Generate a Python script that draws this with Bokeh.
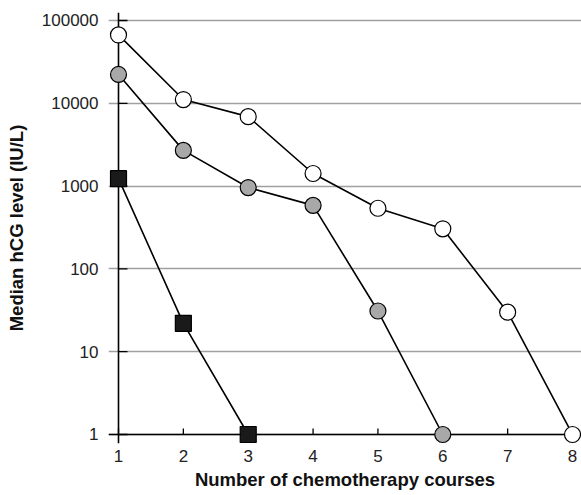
import math
from bokeh.plotting import figure
from bokeh.embed import file_html
from bokeh.resources import INLINE
from bokeh.models import FixedTicker, CustomJSTickFormatter, Range1d, Grid

courses = [1, 2, 3, 4, 5, 6, 7, 8]
open_x = [1, 2, 3, 4, 5, 6, 7, 8]
open_y = [67000, 11100, 6900, 1420, 540, 305, 30, 1]
gray_x = [1, 2, 3, 4, 5, 6]
gray_y = [22300, 2700, 960, 585, 31, 1]
sq_x = [1, 2, 3]
sq_y = [1230, 22, 1]
y_ticks = [1, 10, 100, 1000, 10000, 100000]
x_title = "Number of chemotherapy courses"
y_title = "Median hCG level (IU/L)"

p = figure(width=581, height=495, y_axis_type="log", output_backend="svg",
           toolbar_location=None,
           x_range=Range1d(0.8458, 8.1388),
           y_range=Range1d(10 ** -0.1087, 10 ** 5.0966),
           min_border_left=108, min_border_right=0, min_border_top=12, min_border_bottom=52)
p.outline_line_color = None
p.background_fill_color = "white"
p.border_fill_color = "white"

# grid lines
p.xgrid.visible = False
p.ygrid.grid_line_color = "#a0a0a0"
p.ygrid.grid_line_width = 1.3
p.ygrid.ticker = FixedTicker(ticks=y_ticks)
p.ygrid.bounds = (courses[0], courses[-1] + 0.02)

# axis lines drawn at the data origin (x=1, y=1)
p.add_layout(Grid(dimension=0, ticker=FixedTicker(ticks=[courses[0]]),
                  bounds=(y_ticks[0], y_ticks[-1]),
                  grid_line_color="black", grid_line_width=1.6))
p.add_layout(Grid(dimension=1, ticker=FixedTicker(ticks=[y_ticks[0]]),
                  bounds=(courses[0], courses[-1]),
                  grid_line_color="black", grid_line_width=1.6))

for ax in (p.xaxis[0], p.yaxis[0]):
    ax.axis_line_color = None
    ax.major_tick_line_color = None
    ax.minor_tick_line_color = None
    ax.major_tick_in = 0
    ax.major_tick_out = 0
    ax.major_label_text_font = "Liberation Sans"
    ax.major_label_text_font_size = "17px"
    ax.major_label_text_color = "#222222"
    ax.axis_label_text_font = "Liberation Sans"
    ax.axis_label_text_font_style = "bold"
    ax.axis_label_text_font_size = "18.5px"
    ax.axis_label_text_color = "#111111"

p.xaxis.ticker = FixedTicker(ticks=courses)
p.xaxis.major_label_standoff = 6
p.xaxis.axis_label = x_title
p.xaxis.axis_label_standoff = 4

p.yaxis.ticker = FixedTicker(ticks=y_ticks)
p.yaxis.formatter = CustomJSTickFormatter(code="return Math.round(tick).toString();")
p.yaxis.major_label_standoff = 10
p.yaxis.axis_label = y_title
p.yaxis.axis_label_standoff = 12

# inward tick marks
p.ray(x=courses, y=[y_ticks[0]] * len(courses), length=6, length_units="screen",
      angle=math.pi / 2, line_color="black", line_width=1.3)
p.ray(x=[courses[0]] * len(y_ticks), y=y_ticks, length=9, length_units="screen",
      angle=0, line_color="black", line_width=1.3)

p.line(open_x, open_y, line_color="black", line_width=1.6)
p.line(gray_x, gray_y, line_color="black", line_width=1.6)
p.line(sq_x, sq_y, line_color="black", line_width=1.6)

p.scatter(open_x, open_y, marker="circle", size=16, fill_color="white",
          line_color="black", line_width=1.2)
p.scatter(gray_x, gray_y, marker="circle", size=16, fill_color="#a8a8a8",
          line_color="black", line_width=1.2)
p.scatter(sq_x, sq_y, marker="square", size=16, fill_color="#1a1a1a",
          line_color="black", line_width=1.2)

open("out.html", "w").write(file_html(p, INLINE))
